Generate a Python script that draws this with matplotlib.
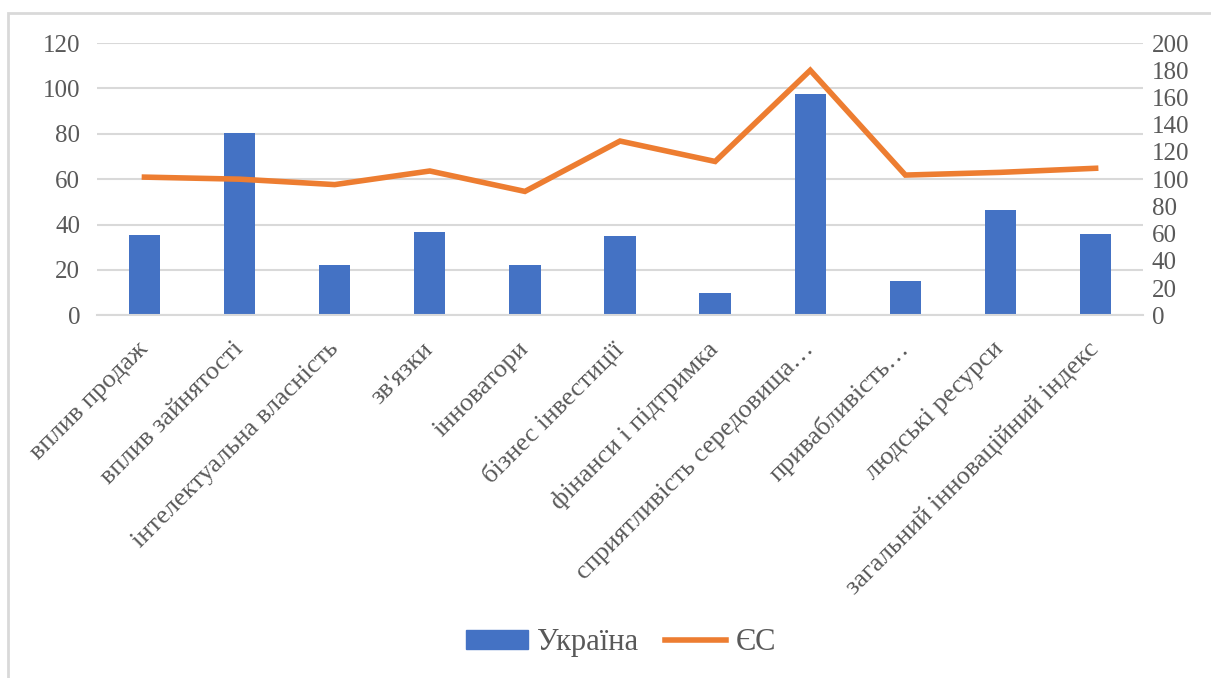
import numpy as np
import matplotlib.pyplot as plt
from matplotlib.patches import Rectangle
from matplotlib.lines import Line2D

plt.rcParams['font.family'] = ['Liberation Serif', 'DejaVu Serif']

categories = ["вплив продаж", "вплив зайнятості", "інтелектуальна власність",
              "зв'язки", "інноватори", "бізнес інвестиції", "фінанси і підтримка",
              "сприятливість середовища…", "привабливість…", "людські ресурси",
              "загальний інноваційний індекс"]
ukraine = [35.5, 80.5, 22, 36.5, 22, 35, 10, 97.5, 15, 46.5, 36]
eu = [101.5, 100, 96, 106, 91, 128, 113, 180, 103, 105, 108]

blue = "#4472C4"
orange = "#ED7D31"
txt = "#595959"
grid = "#D9D9D9"

fig = plt.figure(figsize=(12.11, 6.78), dpi=100)
ax = fig.add_axes([0.080, 0.535, 0.864, 0.4015])
ax2 = ax.twinx()

x = np.arange(len(categories))
ax.bar(x, ukraine, width=0.33, color=blue, zorder=2)
ax2.plot(x, eu, color=orange, lw=4, solid_joinstyle='miter', zorder=3)

ax.set_xlim(-0.5, len(categories) - 0.5)
ax.set_ylim(0, 120)
ax.set_yticks(np.arange(0, 121, 20))
ax2.set_ylim(0, 200)
ax2.set_yticks(np.arange(0, 201, 20))

ax.grid(axis='y', color=grid, lw=1.5, zorder=0)
ax.set_axisbelow(True)
for a in (ax, ax2):
    for s in a.spines.values():
        s.set_visible(False)
ax.spines['bottom'].set_visible(True)
ax.spines['bottom'].set_color(grid)
ax.spines['bottom'].set_linewidth(1.5)

ax.tick_params(axis='y', length=0, labelsize=18, labelcolor=txt, pad=12)
ax2.tick_params(axis='y', length=0, labelsize=18, labelcolor=txt, pad=6)
ax.set_xticks(x)
ax.set_xticklabels(categories, rotation=45, ha='right', va='center',
                   rotation_mode='anchor', fontsize=19, color=txt)
ax.tick_params(axis='x', length=0, pad=22)

handles = [Rectangle((0, 0), 1, 1, color=blue),
           Line2D([0], [0], color=orange, lw=4)]
fig.legend(handles, ["Україна", "ЄС"], loc='center', bbox_to_anchor=(0.513, 0.052),
           ncol=2, frameon=False, fontsize=22, labelcolor=txt,
           handlelength=2.0, handleheight=0.55, handletextpad=0.3,
           columnspacing=0.9)

fig.add_artist(Rectangle((8 / 1211, -0.1), 1.2, 1 - 13 / 678 + 0.1,
                         transform=fig.transFigure, fill=False,
                         edgecolor="#D9D9D9", lw=2))

fig.savefig("out.png", dpi=100)
